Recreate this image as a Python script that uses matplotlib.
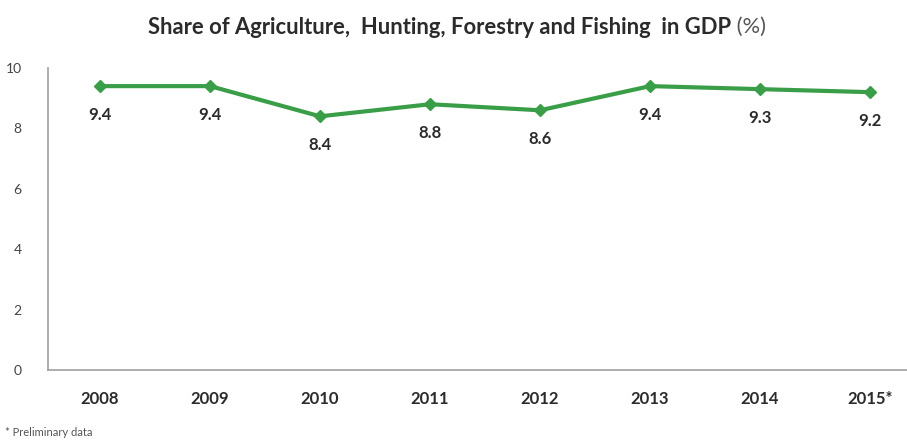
import matplotlib
matplotlib.use("Agg")
from matplotlib import pyplot as plt

years = ["2008", "2009", "2010", "2011", "2012", "2013", "2014", "2015*"]
share = [9.4, 9.4, 8.4, 8.8, 8.6, 9.4, 9.3, 9.2]
y_ticks = [0, 2, 4, 6, 8, 10]

plt.rcParams['font.family'] = ['Lato', 'DejaVu Sans']

fig = plt.figure(figsize=(9.07, 4.44), dpi=100)
ax = fig.add_axes([48 / 907, 1 - 370 / 444, 1 - 48 / 907, (370 - 68) / 444])

x = list(range(len(years)))
ax.plot(x, share, color="#3a9e48", lw=3, marker="D", markersize=6, zorder=3)

# value labels under each point
for xi, v in zip(x, share):
    ax.annotate(f"{v:.1f}", (xi, v), xytext=(0, -21), textcoords="offset points",
                ha="center", va="center", fontsize=12, fontweight="bold", color="#2b2b2b")

ax.set_xlim(-0.473, 7.336)
ax.set_ylim(0, 10)
ax.set_xticks(x)
ax.set_xticklabels(years, fontsize=12, fontweight="bold", color="#2b2b2b")
ax.set_yticks(y_ticks)
ax.set_yticklabels([str(t) for t in y_ticks], fontsize=10, color="#444444")
ax.tick_params(axis="both", length=0)
ax.tick_params(axis="x", pad=15)
ax.tick_params(axis="y", pad=19)

for s in ("top", "right"):
    ax.spines[s].set_visible(False)
for s in ("left", "bottom"):
    ax.spines[s].set_color("#a0a0a0")
    ax.spines[s].set_linewidth(1.2)

title = fig.text(148 / 907, 0.939, "Share of Agriculture,  Hunting, Forestry and Fishing  in GDP",
                 ha="left", va="center", fontsize=15.8, fontweight="bold", color="#2b2b2b")
ax.annotate(" (%)", xy=(1, 0.5), xycoords=title, ha="left", va="center",
            fontsize=15.8, color="#555555", annotation_clip=False)
fig.text(0.006, 0.025, "* Preliminary data", ha="left", va="center", fontsize=8, color="#555555")

fig.savefig("out.png", dpi=100)
